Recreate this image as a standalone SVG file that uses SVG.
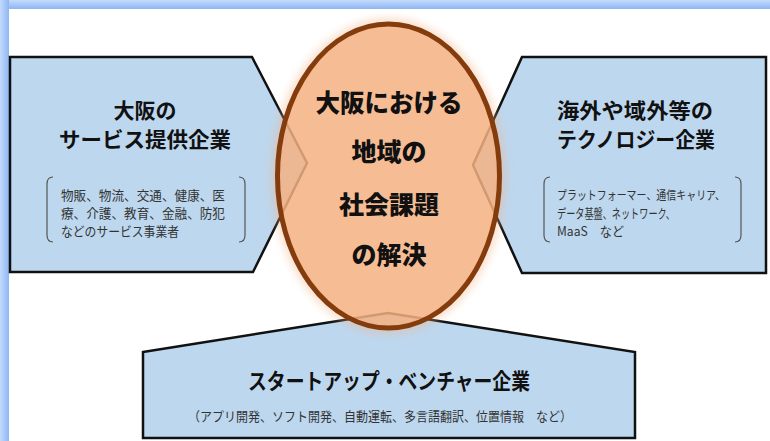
<svg xmlns="http://www.w3.org/2000/svg" width="770" height="441" viewBox="0 0 770 441">
<defs>
<linearGradient id="topbar" x1="0" y1="0" x2="0" y2="1">
<stop offset="0" stop-color="#c4dafb"/>
<stop offset="1" stop-color="#8db6f4"/>
</linearGradient>
<linearGradient id="leftbar" x1="0" y1="0" x2="1" y2="0">
<stop offset="0" stop-color="#c4dafb"/>
<stop offset="1" stop-color="#8db6f4"/>
</linearGradient>
<filter id="glow" x="-20%" y="-20%" width="140%" height="140%">
<feGaussianBlur stdDeviation="4"/>
</filter>
<style>
.box{fill:#bdd7ee;stroke:#111;stroke-width:2.5;stroke-linejoin:miter}
.br{fill:none;stroke:#555;stroke-width:1.2}
.t{font-family:"Noto Sans CJK JP","Noto Sans",sans-serif;font-weight:bold;fill:#111;text-anchor:middle}
.s{font-family:"Noto Sans CJK JP","Noto Sans",sans-serif;fill:#333;font-size:13px}
.c{font-family:"Noto Sans CJK JP","Noto Sans",sans-serif;font-weight:900;fill:#111;text-anchor:middle;font-size:25px}
</style>
</defs>
<rect x="0" y="0" width="770" height="441" fill="#ffffff"/>
<rect x="0" y="0" width="770" height="9" fill="url(#topbar)"/>
<rect x="0" y="0" width="9" height="441" fill="url(#leftbar)"/>

<g id="left-node">
<polygon class="box" points="10,57 252,57 307,163 253,272 10,272"/>
<text class="t" x="145" y="118" font-size="21">大阪の</text>
<text class="t" x="145" y="147" font-size="21" textLength="172" lengthAdjust="spacingAndGlyphs">サービス提供企業</text>
<path class="br" d="M53 177 Q47 177 47 184 L47 235 Q47 242 53 242"/>
<path class="br" d="M239 177 Q245 177 245 184 L245 235 Q245 242 239 242"/>
<text class="s" x="61" y="200" textLength="164" lengthAdjust="spacingAndGlyphs">物販、物流、交通、健康、医</text>
<text class="s" x="61" y="218" textLength="164" lengthAdjust="spacingAndGlyphs">療、介護、教育、金融、防犯</text>
<text class="s" x="61" y="236" textLength="118" lengthAdjust="spacingAndGlyphs">などのサービス事業者</text>
</g>

<g id="right-node">
<polygon class="box" points="522,57 766,57 766,273 522,273 473,165"/>
<text class="t" x="635" y="118" font-size="21" textLength="156" lengthAdjust="spacingAndGlyphs">海外や域外等の</text>
<text class="t" x="636" y="147" font-size="21" textLength="158" lengthAdjust="spacingAndGlyphs">テクノロジー企業</text>
<path class="br" d="M550 177 Q544 177 544 184 L544 235 Q544 242 550 242"/>
<path class="br" d="M735 177 Q741 177 741 184 L741 235 Q741 242 735 242"/>
<text class="s" x="557" y="200" font-size="12" style="font-size:12px" textLength="168" lengthAdjust="spacingAndGlyphs">プラットフォーマー、通信キャリア、</text>
<text class="s" x="557" y="218" textLength="118" lengthAdjust="spacingAndGlyphs">データ基盤、ネットワーク、</text>
<text class="s" x="557" y="236" textLength="67" lengthAdjust="spacingAndGlyphs">MaaS　など</text>
</g>

<g id="bottom-node">
<polygon class="box" points="143,352 388,313 635,352 635,438 143,438"/>
<text class="t" x="389" y="389" font-size="22" textLength="282" lengthAdjust="spacingAndGlyphs">スタートアップ・ベンチャー企業</text>
<text class="s" x="188" y="421" textLength="384" lengthAdjust="spacingAndGlyphs">（アプリ開発、ソフト開発、自動運転、多言語翻訳、位置情報　など）</text>
</g>

<g id="connectors"></g>

<g id="center-node">
<ellipse cx="388.5" cy="176" rx="113" ry="154" fill="none" stroke="#f4b183" stroke-width="6" opacity="0.6" filter="url(#glow)"/>
<ellipse cx="388.5" cy="176" rx="111" ry="152" fill="#f4b183" fill-opacity="0.85" stroke="#843c0c" stroke-width="5"/>
<text class="c" x="389" y="112" textLength="147" lengthAdjust="spacingAndGlyphs">大阪における</text>
<text class="c" x="389" y="161">地域の</text>
<text class="c" x="389" y="214">社会課題</text>
<text class="c" x="389" y="264">の解決</text>
</g>
</svg>
